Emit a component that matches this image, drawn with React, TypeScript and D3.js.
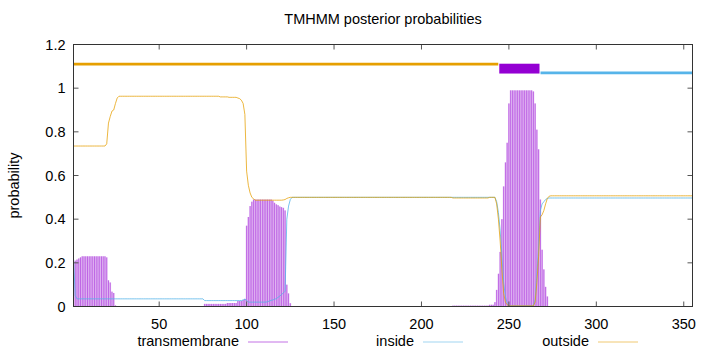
import React from "react";
import * as d3 from "d3";

// Run-length encoded per-residue posterior probabilities: [count, value]
const tmRuns: [number, number][] = [
  [1, 0.2], [1, 0.21], [1, 0.215], [1, 0.22], [1, 0.225], [14, 0.23], [1, 0.225],
  [1, 0.12], [1, 0.11], [1, 0.068], [1, 0.062], [1, 0.005], [50, 0],
  [13, 0.012], [6, 0.016], [3, 0.025], [1, 0.03], [1, 0.035],
  [1, 0.37], [1, 0.41], [1, 0.46], [1, 0.48], [11, 0.49],
  [1, 0.485], [1, 0.475], [1, 0.468], [1, 0.464], [1, 0.458], [1, 0.455], [1, 0.452], [1, 0.44],
  [1, 0.1], [1, 0.06], [1, 0.015], [92, 0],
  [21, 0.004], [3, 0.008], [1, 0.02], [1, 0.076], [1, 0.15], [1, 0.25], [1, 0.4], [1, 0.55],
  [1, 0.66], [1, 0.75], [1, 0.93], [13, 0.99], [1, 0.985], [1, 0.93], [1, 0.81], [1, 0.72],
  [1, 0.49], [1, 0.26], [1, 0.17], [1, 0.09], [1, 0.046], [18, 0], [15, 0.002], [50, 0],
];

const outsideRuns: [number, number][] = [
  [19, 0.735], [1, 0.745], [1, 0.84], [1, 0.87], [1, 0.895], [1, 0.9], [1, 0.93], [1, 0.955],
  [58, 0.963], [5, 0.96], [5, 0.958], [1, 0.955], [1, 0.952], [1, 0.945], [1, 0.93], [1, 0.88],
  [1, 0.62], [1, 0.555], [1, 0.52], [1, 0.5], [1, 0.493], [16, 0.487], [1, 0.488], [1, 0.49],
  [1, 0.495], [1, 0.498], [93, 0.5], [21, 0.497], [4, 0.5],
  [1, 0.47], [1, 0.4], [1, 0.3], [1, 0.17], [1, 0.06], [1, 0.02], [1, 0.008], [15, 0.003],
  [1, 0.02], [1, 0.11], [1, 0.23], [1, 0.41], [1, 0.42], [1, 0.44], [1, 0.47], [1, 0.495],
  [1, 0.505], [82, 0.507],
];

const insideRuns: [number, number][] = [
  [1, 0.22], [1, 0.05], [73, 0.035], [22, 0.027], [1, 0.03], [1, 0.033], [1, 0.028], [11, 0.02],
  [1, 0.022], [1, 0.025], [1, 0.028], [1, 0.03], [1, 0.033], [1, 0.036], [1, 0.042], [1, 0.048],
  [1, 0.055], [1, 0.062], [1, 0.07], [1, 0.4], [1, 0.46], [1, 0.49], [117, 0.5],
  [1, 0.48], [1, 0.43], [1, 0.35], [1, 0.23], [1, 0.11], [1, 0.045], [1, 0.015], [15, 0.003],
  [1, 0.03], [1, 0.15], [1, 0.27], [1, 0.44], [1, 0.47], [1, 0.48], [1, 0.49], [1, 0.495],
  [83, 0.497],
];

// Predicted topology segments
const topology: { kind: string; start: number; end: number }[] = [
  { kind: "outside", start: 1, end: 244 },
  { kind: "TMhelix", start: 245, end: 267 },
  { kind: "inside", start: 268, end: 355 },
];

const seqLength = 355;
const xTicks = [50, 100, 150, 200, 250, 300, 350];
const yTicks = [0, 0.2, 0.4, 0.6, 0.8, 1, 1.2];
const legendItems = [
  { label: "transmembrane", color: "#9400D3" },
  { label: "inside", color: "#56B4E9" },
  { label: "outside", color: "#E69F00" },
];

function expand(runs: [number, number][]): { r: number; v: number }[] {
  const out: { r: number; v: number }[] = [];
  let r = 1;
  for (const [n, v] of runs) {
    for (let i = 0; i < n; i++) out.push({ r: r++, v });
  }
  return out;
}

const tm = expand(tmRuns);
const outside = expand(outsideRuns);
const inside = expand(insideRuns);

const W = 720;
const H = 352;
const L = 73.5, R = 692.5, T = 44.5, B = 306.5;
const FONT = "'Liberation Sans', Arial, Helvetica, sans-serif";
const FS = 14.5;

export default function App() {
  const x = d3.scaleLinear().domain([1, seqLength]).range([L, R]);
  const y = d3.scaleLinear().domain([0, 1.2]).range([B, T]);
  const step = x(2) - x(1);
  const line = d3
    .line<{ r: number; v: number }>()
    .x((d) => x(d.r))
    .y((d) => y(d.v));

  const outSeg = topology[0];
  const tmSeg = topology[1];
  const inSeg = topology[2];

  return (
    <svg width={W} height={H} style={{ display: "block", position: "absolute", left: 0, top: 0, background: "#fff" }}>
      <defs>
        <clipPath id="plot">
          <rect x={L} y={T} width={R - L} height={B - T} />
        </clipPath>
      </defs>
      <rect x={0} y={0} width={W} height={H} fill="#fff" />
      <text x={(L + R) / 2} y={24} textAnchor="middle" fontFamily={FONT} fontSize={FS}>
        TMHMM posterior probabilities
      </text>
      <g clipPath="url(#plot)">
        {tm
          .filter((d) => d.v > 0)
          .map((d) => (
            <g key={d.r}>
              <rect
                x={x(d.r) - step / 2}
                width={step}
                y={y(d.v)}
                height={y(0) - y(d.v)}
                fill="#9400D3"
                opacity={0.24}
              />
              <line x1={x(d.r)} x2={x(d.r)} y1={y(d.v)} y2={y(0)} stroke="#9400D3" strokeWidth={0.8} opacity={0.6} />
            </g>
          ))}
        <path d={line(inside) || ""} fill="none" stroke="#56B4E9" strokeWidth={1} opacity={0.8} />
        <path d={line(outside) || ""} fill="none" stroke="#E69F00" strokeWidth={1} opacity={0.75} />
        <line
          x1={x(outSeg.start - 0.5)}
          x2={x(outSeg.end + 0.5) - 1}
          y1={y(1.11)}
          y2={y(1.11)}
          stroke="#E69F00"
          strokeWidth={2.6}
        />
        <rect
          x={x(tmSeg.start - 0.5)}
          width={x(tmSeg.end + 0.5) - x(tmSeg.start - 0.5)}
          y={y(1.112)}
          height={y(1.067) - y(1.112)}
          fill="#9400D3"
        />
        <line
          x1={x(inSeg.start - 0.5) + 1}
          x2={x(inSeg.end + 0.5)}
          y1={y(1.07)}
          y2={y(1.07)}
          stroke="#56B4E9"
          strokeWidth={2.6}
        />
      </g>
      {yTicks.map((t) => (
        <g key={"y" + t}>
          <line x1={L} x2={L + 5} y1={y(t)} y2={y(t)} stroke="#555" strokeWidth={1} />
          <line x1={R} x2={R - 5} y1={y(t)} y2={y(t)} stroke="#555" strokeWidth={1} />
          <text x={L - 8} y={y(t)} dy="0.35em" textAnchor="end" fontFamily={FONT} fontSize={FS}>
            {String(t)}
          </text>
        </g>
      ))}
      {xTicks.map((t) => (
        <g key={"x" + t}>
          <line x1={x(t)} x2={x(t)} y1={B} y2={B - 5} stroke="#555" strokeWidth={1} />
          <line x1={x(t)} x2={x(t)} y1={T} y2={T + 5} stroke="#555" strokeWidth={1} />
          <text x={x(t)} y={B + 22} textAnchor="middle" fontFamily={FONT} fontSize={FS}>
            {String(t)}
          </text>
        </g>
      ))}
      <rect x={L} y={T} width={R - L} height={B - T} fill="none" stroke="#333" strokeWidth={1} />
      <text
        transform={`translate(19,${(T + B) / 2 + 10}) rotate(-90)`}
        textAnchor="middle"
        fontFamily={FONT}
        fontSize={FS}
      >
        probability
      </text>
      {legendItems.map((it, i) => {
        const tx = 239 + i * 175;
        return (
          <g key={it.label}>
            <text x={tx} y={346} textAnchor="end" fontFamily={FONT} fontSize={FS}>
              {it.label}
            </text>
            <line x1={tx + 9} x2={tx + 49} y1={342} y2={342} stroke={it.color} strokeWidth={1} opacity={0.55} />
          </g>
        );
      })}
    </svg>
  );
}
